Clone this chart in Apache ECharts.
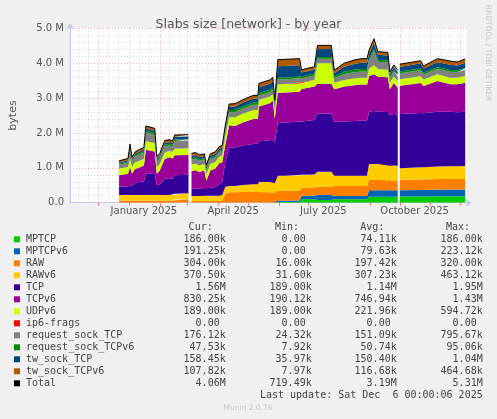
<!DOCTYPE html>
<html>
<head>
<meta charset="utf-8">
<script src="https://cdn.jsdelivr.net/npm/echarts@6.0.0/dist/echarts.min.js"></script>
<style>
html, body { margin: 0; padding: 0; background: #f0f0f0; }
#slabs { width: 497px; height: 419px; }
</style>
</head>
<body>
<div id="slabs"></div>
<script>
// sample days (null rows = no data)
var dates = ['2024-12-22', '2024-12-31', '2025-01-02', '2025-01-04', '2025-01-07', '2025-01-11', '2025-01-16', '2025-01-18',
    '2025-01-27', '2025-01-29', '2025-02-01', '2025-02-06', '2025-02-11', '2025-02-14', '2025-02-16', '2025-03-02',
    '2025-03-03',
    '2025-03-05', '2025-03-09', '2025-03-13', '2025-03-18', '2025-03-20', '2025-03-24', '2025-03-29', '2025-04-02',
    '2025-04-05', '2025-04-08', '2025-04-12', '2025-04-18', '2025-04-25', '2025-05-03', '2025-05-07', '2025-05-11',
    '2025-05-12', '2025-05-23', '2025-05-26', '2025-05-28',
    '2025-05-31', '2025-06-07', '2025-06-22', '2025-06-24', '2025-07-07', '2025-07-10', '2025-07-24', '2025-07-27',
    '2025-08-06', '2025-08-16', '2025-08-23', '2025-08-29', '2025-08-31', '2025-09-05', '2025-09-09', '2025-09-19',
    '2025-09-21', '2025-09-25', '2025-09-29',
    '2025-09-30',
    '2025-10-01', '2025-10-22', '2025-10-25', '2025-11-08', '2025-11-21', '2025-11-28', '2025-12-06'];

// values in k
var mptcp = [0, 0, 0, 0, 0, 0, 0, 0, 0, 0, 0, 0, 0, 0, 0, 0,
    null,
    0, 0, 0, 0, 0, 0, 0, 0, 0, 0, 0, 0, 0, 0, 0, 0, 0, 0, 0, 0,
    20, 20, 20, 100, 100, 80, 80, 100, 100, 100, 100, 100, 170, 170, 170, 170, 170, 170, 170,
    null,
    180, 180, 180, 185, 185, 185, 186];
var mptcpv6 = [0, 0, 0, 0, 0, 0, 0, 0, 0, 0, 0, 0, 0, 0, 0, 0,
    null,
    0, 0, 0, 0, 0, 0, 0, 0, 0, 0, 0, 0, 0, 0, 0, 0, 0, 0, 0, 0,
    40, 40, 40, 100, 100, 140, 140, 90, 90, 90, 90, 90, 190, 190, 190, 190, 190, 190, 190,
    null,
    180, 185, 185, 190, 190, 190, 191];
var raw = [60, 60, 60, 60, 60, 60, 60, 60, 60, 60, 60, 60, 60, 60, 90, 100,
    null,
    50, 50, 50, 50, 50, 50, 50, 50, 60, 250, 300, 300, 310, 310, 310, 310, 300, 300, 300, 280,
    280, 280, 280, 220, 220, 240, 240, 290, 290, 290, 290, 290, 290, 290, 290, 290, 280, 280, 280,
    null,
    300, 300, 300, 305, 305, 305, 304];
var rawv6 = [160, 160, 160, 160, 160, 160, 160, 160, 160, 160, 160, 160, 160, 160, 170, 170,
    null,
    140, 140, 140, 150, 150, 150, 150, 150, 160, 200, 180, 180, 200, 210, 220, 220, 290, 290, 290, 280,
    430, 430, 440, 380, 390, 430, 430, 290, 290, 290, 290, 290, 460, 460, 460, 460, 420, 430, 420,
    null,
    330, 350, 350, 360, 365, 365, 370];
var tcp = [240, 250, 300, 270, 340, 380, 390, 620, 600, 280, 300, 470, 480, 470, 530, 530,
    null,
    220, 220, 210, 220, 200, 230, 250, 330, 380, 700, 1100, 1100, 1130, 1150, 1160, 1160, 1170, 1200, 1230, 1150,
    1520, 1530, 1540, 1530, 1560, 1670, 1670, 1550, 1560, 1570, 1580, 1580, 1500, 1520, 1500, 1490, 1450, 1480, 1450,
    null,
    1550, 1560, 1550, 1570, 1560, 1550, 1560];
var tcpv6 = [330, 360, 500, 350, 405, 400, 455, 680, 650, 330, 400, 560, 600, 580, 570, 570,
    null,
    500, 520, 480, 500, 230, 490, 530, 600, 560, 500, 640, 620, 650, 700, 720, 720, 1000, 1060, 1100, 700,
    860, 860, 860, 930, 960, 850, 850, 930, 1000, 1030, 1040, 1040, 1020, 1050, 1000, 1000, 740, 880, 790,
    null,
    810, 860, 780, 880, 790, 800, 830];
var udpv6 = [190, 190, 230, 190, 190, 195, 195, 240, 240, 190, 190, 190, 190, 190, 190, 190,
    null,
    190, 190, 190, 190, 190, 190, 190, 190, 190, 240, 240, 250, 250, 250, 250, 250, 190, 190, 190, 190,
    240, 240, 240, 190, 190, 590, 590, 190, 190, 190, 190, 190, 220, 260, 220, 210, 190, 190, 190,
    null,
    190, 190, 190, 190, 190, 190, 189];
var ip6frags = [0, 0, 0, 0, 0, 0, 0, 0, 0, 0, 0, 0, 0, 0, 0, 0,
    null,
    0, 0, 0, 0, 0, 0, 0, 0, 0, 0, 0, 0, 0, 0, 0, 0, 0, 0, 0, 0,
    0, 0, 0, 0, 0, 0, 0, 0, 0, 0, 0, 0, 0, 0, 0, 0, 0, 0, 0,
    null,
    0, 0, 0, 0, 0, 0, 0];
var reqTcp = [110, 130, 280, 150, 160, 180, 170, 260, 240, 150, 150, 170, 150, 150, 220, 220,
    null,
    130, 140, 130, 130, 110, 130, 130, 130, 130, 140, 140, 140, 150, 150, 150, 150, 120, 130, 130, 120,
    140, 140, 140, 120, 130, 130, 130, 130, 170, 180, 180, 180, 220, 400, 210, 210, 130, 140, 130,
    null,
    170, 170, 150, 150, 170, 165, 176];
var reqTcpv6 = [30, 30, 40, 30, 35, 40, 40, 50, 50, 40, 40, 50, 50, 50, 40, 40,
    null,
    40, 40, 40, 40, 30, 40, 40, 40, 40, 50, 60, 70, 70, 70, 70, 70, 70, 70, 70, 60,
    50, 50, 50, 50, 50, 50, 50, 50, 70, 70, 70, 70, 60, 70, 60, 60, 50, 50, 50,
    null,
    50, 50, 45, 50, 50, 45, 48];
var twTcp = [30, 40, 50, 40, 45, 45, 50, 60, 60, 50, 50, 50, 50, 50, 80, 80,
    null,
    70, 70, 70, 60, 60, 60, 60, 60, 60, 70, 90, 100, 100, 110, 110, 110, 170, 170, 170, 100,
    330, 330, 330, 110, 120, 230, 230, 100, 140, 170, 180, 180, 140, 170, 140, 140, 80, 80, 80,
    null,
    130, 150, 120, 150, 150, 140, 158];
var twTcpv6 = [50, 50, 60, 50, 55, 60, 60, 70, 70, 60, 60, 70, 70, 60, 50, 50,
    null,
    70, 70, 60, 60, 60, 60, 60, 60, 60, 50, 80, 80, 80, 90, 90, 90, 110, 110, 110, 60,
    190, 190, 190, 80, 80, 100, 100, 80, 100, 110, 120, 120, 100, 120, 90, 90, 50, 60, 50,
    null,
    80, 75, 70, 100, 105, 100, 108];

var names = ['MPTCP', 'MPTCPv6', 'RAW', 'RAWv6', 'TCP', 'TCPv6', 'UDPv6', 'ip6-frags',
    'request_sock_TCP', 'request_sock_TCPv6', 'tw_sock_TCP', 'tw_sock_TCPv6', 'Total'];
var colors = ['#00cc00', '#0066b3', '#ff8000', '#ffcc00', '#330099', '#990099', '#ccff00', '#ff0000',
    '#808080', '#008f00', '#00487d', '#b35a00', '#000000'];
var curText = ['186.00k', '191.25k', '304.00k', '370.50k', '1.56M', '830.25k', '189.00k', '0.00 ',
    '176.12k', '47.53k', '158.45k', '107.82k', '4.06M'];
var minText = ['0.00 ', '0.00 ', '16.00k', '31.60k', '189.00k', '190.12k', '189.00k', '0.00 ',
    '24.32k', '7.92k', '35.97k', '7.97k', '719.49k'];
var avgText = ['74.11k', '79.63k', '197.42k', '307.23k', '1.14M', '746.94k', '221.96k', '0.00 ',
    '151.09k', '50.74k', '150.40k', '116.68k', '3.19M'];
var maxText = ['186.00k', '223.12k', '320.00k', '463.12k', '1.95M', '1.43M', '594.72k', '0.00 ',
    '795.67k', '95.06k', '1.04M', '464.68k', '5.31M'];
var monthLabels = ['2025-01-16', '2025-04-16', '2025-07-16', '2025-10-16'];

(function() {
    var monthNames = ['January', 'February', 'March', 'April', 'May', 'June', 'July',
        'August', 'September', 'October', 'November', 'December'];
    var mono = '"DejaVu Sans Mono", monospace';
    var sans = '"DejaVu Sans", sans-serif';

    // 'yyyy-mm-dd' -> local midnight timestamp
    var toTime = function(s) {
        var p = s.split('-');
        return new Date(+p[0], +p[1] - 1, +p[2]).getTime();
    };
    var times = dates.map(toTime);

    var stacked = [mptcp, mptcpv6, raw, rawv6, tcp, tcpv6, udpv6, ip6frags, reqTcp, reqTcpv6, twTcp, twTcpv6];
    var total = dates.map(function(d, i) {
        if (mptcp[i] === null) return null;
        var s = 0;
        stacked.forEach(function(a) { s += a[i]; });
        return s;
    });

    // grid positions: month starts (red), 11th / 21st (grey)
    var monthStarts = [];
    var minorDays = [];
    for (var m = 10; m <= 23; m++) {
        var y = 2024 + Math.floor(m / 12);
        var mo = m % 12;
        monthStarts.push(new Date(y, mo, 1).getTime());
        minorDays.push(new Date(y, mo, 11).getTime());
        minorDays.push(new Date(y, mo, 21).getTime());
    }
    var xMin = new Date(2024, 10, 2, 12).getTime();
    var xMax = new Date(2025, 11, 7, 12).getTime();
    monthStarts = monthStarts.filter(function(t) { return t > xMin && t < xMax; });
    minorDays = minorDays.filter(function(t) { return t > xMin && t < xMax; });

    var series = [];
    for (var i = 0; i < stacked.length; i++) {
        series.push({
            type: 'line',
            name: names[i],
            stack: 'slabs',
            xAxisIndex: 0,
            showSymbol: false,
            lineStyle: { width: 0 },
            areaStyle: { color: colors[i], opacity: 1 },
            itemStyle: { color: colors[i] },
            data: times.map(function(t, j) { return [t, stacked[i][j]]; })
        });
    }
    series.push({
        type: 'line',
        name: 'Total',
        xAxisIndex: 0,
        showSymbol: false,
        lineStyle: { width: 1, color: '#000' },
        data: times.map(function(t, j) { return [t, total[j]]; })
    });

    // legend block below the plot
    var graphic = [];
    var rowY = 239.3;
    var cols = [[curText, 225.7, 'Cur:', 212.7], [minText, 311.7, 'Min:', 299], [avgText, 396.7, 'Avg:', 384.3], [maxText, 482.7, 'Max:', 470]];
    cols.forEach(function(c) {
        graphic.push({ type: 'text', x: c[3], y: 227.3, silent: true,
            style: { text: c[2], font: '10px ' + mono, fill: '#444', align: 'right', verticalAlign: 'middle' } });
    });
    for (var k = 0; k < names.length; k++) {
        var yy = rowY + k * 12;
        graphic.push({ type: 'rect', silent: true, shape: { x: 14, y: yy - 3, width: 6, height: 6 }, style: { fill: colors[k] } });
        graphic.push({ type: 'text', x: 26, y: yy, silent: true,
            style: { text: names[k], font: '10px ' + mono, fill: '#444', align: 'left', verticalAlign: 'middle' } });
        cols.forEach(function(c) {
            graphic.push({ type: 'text', x: c[1], y: yy, silent: true,
                style: { text: c[0][k], font: '10px ' + mono, fill: '#444', align: 'right', verticalAlign: 'middle' } });
        });
    }
    graphic.push({ type: 'text', x: 482.7, y: 395.7, silent: true,
        style: { text: 'Last update: Sat Dec  6 00:00:06 2025', font: '10px ' + mono, fill: '#444', align: 'right', verticalAlign: 'middle' } });
    graphic.push({ type: 'text', x: 248, y: 408.3, silent: true,
        style: { text: 'Munin 2.0.76', font: '7.5px ' + sans, fill: '#c8c8c8', align: 'center', verticalAlign: 'middle' } });
    graphic.push({ type: 'text', x: 488, y: 53, rotation: -Math.PI / 2, silent: true,
        style: { text: 'RRDTOOL / TOBI OETIKER', font: '7.5px ' + sans, fill: '#c8c8c8', align: 'center', verticalAlign: 'middle' } });

    var option = {
        animation: false,
        backgroundColor: '#f0f0f0',
        title: {
            text: 'Slabs size [network] - by year',
            left: 'center',
            top: 13,
            textStyle: { fontFamily: sans, fontSize: 12.5, fontWeight: 'normal', color: '#555' }
        },
        grid: { left: 66.7, top: 28.3, width: 400, height: 174.4, backgroundColor: '#fff', show: true, borderWidth: 0 },
        xAxis: [{
            // data axis, hidden
            type: 'time',
            position: 'top',
            min: xMin,
            max: xMax,
            show: false
        }, {
            // month ticks + labels
            type: 'value',
            position: 'bottom',
            min: xMin,
            max: xMax,
            axisLine: { show: true, lineStyle: { color: '#c4c4f0' }, symbol: ['none', 'arrow'], symbolSize: [6, 6], symbolOffset: [0, 5] },
            axisTick: { show: true, customValues: monthStarts, length: 3, lineStyle: { color: 'rgba(255,0,0,0.5)' } },
            axisLabel: {
                customValues: monthLabels.map(toTime),
                color: '#555',
                fontFamily: sans,
                fontSize: 10,
                margin: 4,
                hideOverlap: false,
                formatter: function(v) {
                    var d = new Date(v);
                    return monthNames[d.getMonth()] + ' ' + d.getFullYear();
                }
            },
            splitLine: { show: true, lineStyle: { color: 'rgba(255,0,0,0.3)', type: [1, 2] } }
        }, {
            // minor vertical grid
            type: 'value',
            position: 'top',
            min: xMin,
            max: xMax,
            axisLine: { show: false },
            axisTick: { show: false, customValues: minorDays },
            axisLabel: { show: false },
            splitLine: { show: true, lineStyle: { color: 'rgba(140,140,140,0.35)', type: [1, 2] } }
        }],
        yAxis: {
            type: 'value',
            min: 0,
            max: 5000,
            interval: 1000,
            name: 'bytes',
            nameLocation: 'middle',
            nameGap: 51,
            nameTextStyle: { fontFamily: sans, fontSize: 11, color: '#555' },
            axisLine: { show: true, lineStyle: { color: '#c4c4f0' }, symbol: ['none', 'arrow'], symbolSize: [6, 6], symbolOffset: [0, 5] },
            axisTick: { show: false },
            axisLabel: {
                color: '#555',
                fontFamily: sans,
                fontSize: 10,
                margin: 6,
                formatter: function(v) {
                    return v === 0 ? '0.0' : (v / 1000).toFixed(1) + ' M';
                }
            },
            splitLine: { show: true, lineStyle: { color: 'rgba(255,0,0,0.3)', type: [1, 2] } },
            minorTick: { show: false, splitNumber: 5 },
            minorSplitLine: { show: true, lineStyle: { color: 'rgba(140,140,140,0.35)', type: [1, 2] } }
        },
        graphic: graphic,
        series: series
    };

    var chart = echarts.init(document.getElementById('slabs'));
    chart.setOption(option);
})();
</script>
</body>
</html>
